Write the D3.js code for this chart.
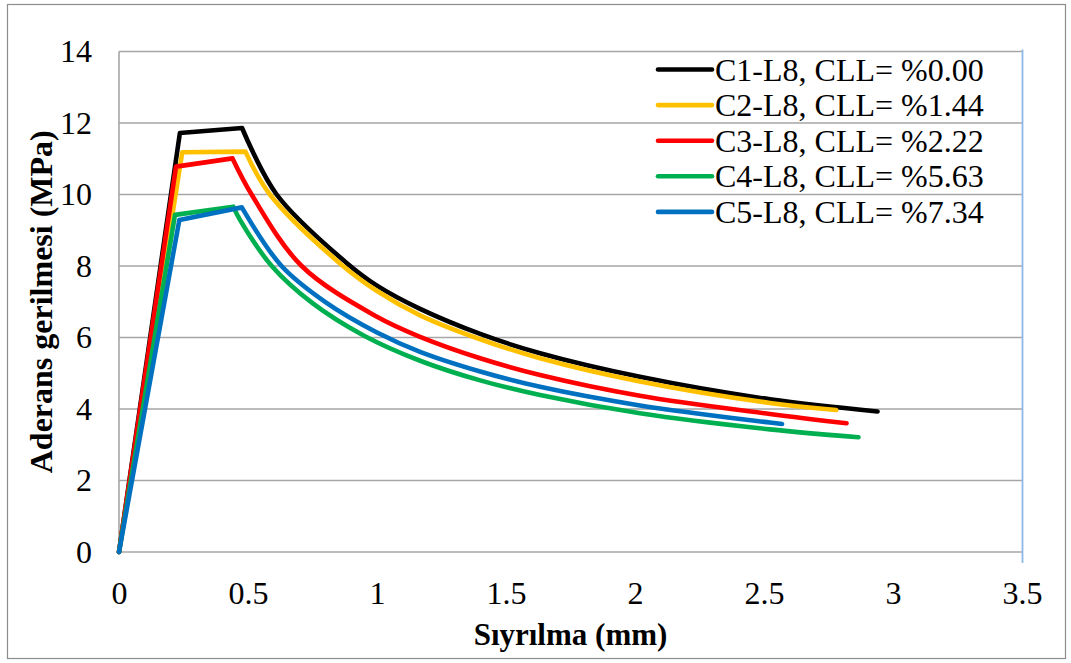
<!DOCTYPE html>
<html><head><meta charset="utf-8">
<script src="https://cdn.jsdelivr.net/npm/d3@7"></script>
<style>body{margin:0;background:#fff}svg text{font-family:"Liberation Serif","Times New Roman",serif !important;fill:#000}</style>
</head><body>
<svg id="c" width="1071" height="663"></svg>
<script>
const seriesNames = ["C1-L8, CLL= %0.00","C2-L8, CLL= %1.44","C3-L8, CLL= %2.22","C4-L8, CLL= %5.63","C5-L8, CLL= %7.34"];
const seriesColors = ["#000000","#FFC000","#FF0000","#00B050","#0070C0"];
const xC1 = [0,0.236,0.477,0.611,0.88,1.0,1.167,1.4,1.632,2.019,2.523,2.94];
const yC1 = [0,11.72,11.86,10,8.1,7.45,6.8,6.1,5.56,4.90,4.27,3.93];
const xC2 = [0,0.215,0.245,0.49,0.585,0.86,1.0,1.167,1.4,1.632,2.019,2.523,2.78];
const yC2 = [0,9.8,11.18,11.2,10,8.05,7.3,6.62,5.95,5.42,4.77,4.17,3.97];
const xC3 = [0,0.221,0.44,0.514,0.708,1.0,1.167,1.4,1.632,2.019,2.523,2.82];
const yC3 = [0,10.78,11.01,10,8,6.58,6.02,5.42,4.95,4.37,3.86,3.60];
const xC4 = [0,0.217,0.443,0.469,0.592,0.75,0.95,1.167,1.4,1.632,2.019,2.523,2.866];
const yC4 = [0,9.43,9.66,9.29,8,6.96,6.05,5.35,4.80,4.39,3.88,3.43,3.21];
const xC5 = [0,0.234,0.476,0.63,0.8,1.0,1.167,1.4,1.632,2.019,2.523,2.57];
const yC5 = [0,9.29,9.64,8,6.99,6.14,5.6,5.05,4.62,4.10,3.62,3.58];
const xTicks = [0,0.5,1,1.5,2,2.5,3,3.5];
const yTicks = [0,2,4,6,8,10,12,14];
const xTitle = "Sıyrılma (mm)";
const yTitle = "Aderans gerilmesi (MPa)";

const FONT = '"Liberation Serif","Times New Roman",serif';
const xs = [xC1,xC2,xC3,xC4,xC5], ys = [yC1,yC2,yC3,yC4,yC5];
const svg = d3.select("#c");
const L = 119, R = 1022, T = 51.5, B = 552;
const x = d3.scaleLinear().domain([0,3.5]).range([L,R]);
const y = d3.scaleLinear().domain([0,14]).range([B,T]);

svg.append("rect").attr("x",7.5).attr("y",4.5).attr("width",1058).attr("height",654)
  .attr("fill","none").attr("stroke","#8c8c8c").attr("stroke-width",1.2);

svg.append("g").selectAll("line").data(yTicks).join("line")
  .attr("x1",L).attr("x2",R).attr("y1",d=>y(d)).attr("y2",d=>y(d))
  .attr("stroke","#a6a6a6").attr("stroke-width",1.6);
svg.append("line").attr("x1",L).attr("x2",L).attr("y1",T).attr("y2",B)
  .attr("stroke","#a6a6a6").attr("stroke-width",1.6);
svg.append("line").attr("x1",R+0.5).attr("x2",R+0.5).attr("y1",T-2).attr("y2",563)
  .attr("stroke","#8eb8e5").attr("stroke-width",1.8);

const xAxis = svg.append("g").attr("transform",`translate(0,${B})`)
  .call(d3.axisBottom(x).tickValues(xTicks).tickFormat(d=>String(d)).tickSize(0).tickPadding(29));
xAxis.attr("font-family",null);
xAxis.select(".domain").remove();
xAxis.selectAll("text").attr("font-size",32).style("font-family",FONT);
const yAxis = svg.append("g").attr("transform",`translate(${L},0)`)
  .call(d3.axisLeft(y).tickValues(yTicks).tickFormat(d=>String(d)).tickSize(0).tickPadding(27));
yAxis.attr("font-family",null);
yAxis.select(".domain").remove();
yAxis.selectAll("text").attr("font-size",32).style("font-family",FONT);

svg.append("text").attr("x",(L+R)/2).attr("y",645).attr("text-anchor","middle")
  .attr("font-size",31).attr("font-weight","bold").style("font-family",FONT).text(xTitle);
svg.append("text").attr("transform",`translate(52,${(T+B)/2}) rotate(-90)`).attr("text-anchor","middle")
  .attr("font-size",32).attr("font-weight","bold").style("font-family",FONT).text(yTitle);

const g = svg.append("g");
xs.forEach((xa,i)=>{
  const pts = xa.map((v,j)=>[v,ys[i][j]]);
  let pk = 0; pts.forEach((p,j)=>{ if(p[1]>pts[pk][1]) pk=j; });
  const rise = pts.slice(0,pk+1), decay = pts.slice(pk);
  const lin = d3.line().x(d=>x(d[0])).y(d=>y(d[1]));
  const crv = d3.line().x(d=>x(d[0])).y(d=>y(d[1])).curve(d3.curveCatmullRom.alpha(0.5));
  g.append("path").attr("d", lin(rise) + "L" + crv(decay).slice(1))
    .attr("fill","none").attr("stroke",seriesColors[i]).attr("stroke-width",4.6)
    .attr("stroke-linejoin","round").attr("stroke-linecap","round");
});

const lg = svg.append("g");
seriesNames.forEach((n,i)=>{
  const cy = 69.5 + i*35.6;
  lg.append("line").attr("x1",658).attr("x2",712).attr("y1",cy).attr("y2",cy)
    .attr("stroke",seriesColors[i]).attr("stroke-width",4.6).attr("stroke-linecap","round");
  lg.append("text").attr("x",715).attr("y",cy+11).attr("font-size",32).style("font-family",FONT).text(n);
});
</script>
</body></html>
